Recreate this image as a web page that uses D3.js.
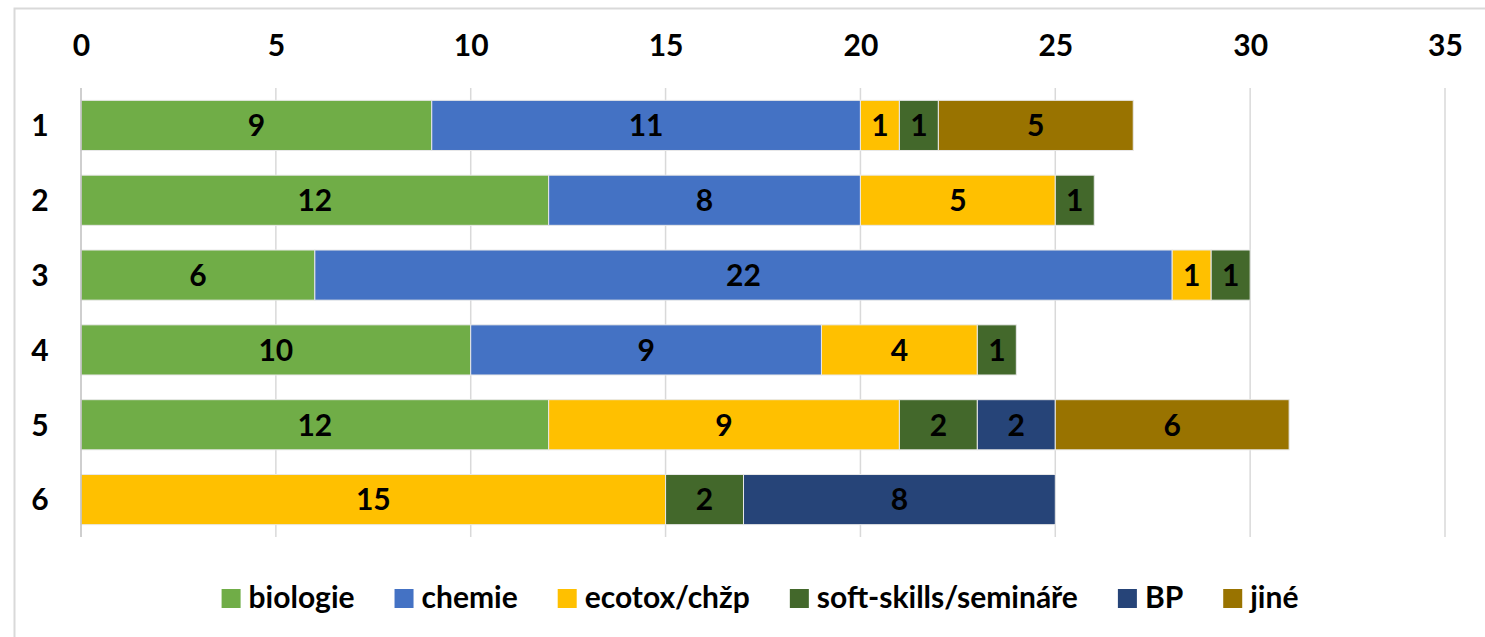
<!DOCTYPE html>
<html>
<head>
<meta charset="utf-8">
<script src="https://cdn.jsdelivr.net/npm/d3@7"></script>
<style>
  body { margin: 0; background: #fff; }
  text { font-family: Lato, "Open Sans", sans-serif; font-weight: bold; fill: #000; }
</style>
</head>
<body>
<svg id="chart" width="1485" height="637"></svg>
<script>
// data
var rows = ["1", "2", "3", "4", "5", "6"];
var seriesNames = ["biologie", "chemie", "ecotox/chžp", "soft-skills/semináře", "BP", "jiné"];
var biologie = [9, 12, 6, 10, 12, 0];
var chemie = [11, 8, 22, 9, 0, 0];
var ecotox = [1, 5, 1, 4, 9, 15];
var softSkills = [1, 1, 1, 1, 2, 2];
var bp = [0, 0, 0, 0, 2, 8];
var jine = [5, 0, 0, 0, 6, 0];
var xTicks = [0, 5, 10, 15, 20, 25, 30, 35];
var colors = ["#70AD47", "#4472C4", "#FFC000", "#43682B", "#264478", "#997300"];

var fs = 30;
var svg = d3.select("#chart");

// outer chart border
svg.append("rect")
  .attr("x", 14.5).attr("y", 8.5)
  .attr("width", 1480).attr("height", 640)
  .attr("fill", "none").attr("stroke", "#d9d9d9").attr("stroke-width", 2);

var x = d3.scaleLinear().domain([0, 35]).range([81, 1445]);
var y = d3.scaleBand().domain(rows).range([88, 537]).paddingInner(0.33).paddingOuter(0.165);

// gridlines
svg.append("g")
  .selectAll("line")
  .data(xTicks.slice(1))
  .enter().append("line")
  .attr("x1", d => x(d)).attr("x2", d => x(d))
  .attr("y1", 88).attr("y2", 537)
  .attr("stroke", "#d9d9d9").attr("stroke-width", 1.5);

// top axis labels
var xAxis = d3.axisTop(x).tickValues(xTicks).tickSize(0).tickPadding(0);
var gx = svg.append("g").attr("transform", "translate(0,56)").call(xAxis);
gx.select(".domain").remove();
gx.selectAll("text").attr("font-size", fs).attr("font-family", "Lato").attr("font-weight", "bold").attr("fill", "#000");

// stack the series
var table = rows.map(function(r, i) {
  return { row: r, s0: biologie[i], s1: chemie[i], s2: ecotox[i], s3: softSkills[i], s4: bp[i], s5: jine[i] };
});
var keys = ["s0", "s1", "s2", "s3", "s4", "s5"];
var stacked = d3.stack().keys(keys)(table);

var layers = svg.append("g").selectAll("g")
  .data(stacked)
  .enter().append("g")
  .attr("fill", (d, i) => colors[i]);

layers.selectAll("rect")
  .data(d => d.filter(p => p[1] - p[0] > 0))
  .enter().append("rect")
  .attr("x", d => x(d[0]))
  .attr("y", d => y(d.data.row))
  .attr("width", d => x(d[1]) - x(d[0]))
  .attr("height", y.bandwidth())
  .attr("stroke", "#e8e8e8").attr("stroke-width", 1);

layers.selectAll("text")
  .data(d => d.filter(p => p[1] - p[0] > 0))
  .enter().append("text")
  .attr("x", d => (x(d[0]) + x(d[1])) / 2)
  .attr("y", d => y(d.data.row) + y.bandwidth() / 2)
  .attr("dy", "0.36em")
  .attr("text-anchor", "middle")
  .attr("font-size", fs)
  .text(d => d[1] - d[0]);

// zero axis line
svg.append("line")
  .attr("x1", x(0)).attr("x2", x(0))
  .attr("y1", 88).attr("y2", 537)
  .attr("stroke", "#bfbfbf").attr("stroke-width", 1.5);

// row labels
svg.append("g").selectAll("text")
  .data(rows)
  .enter().append("text")
  .attr("x", 40)
  .attr("y", d => y(d) + y.bandwidth() / 2)
  .attr("dy", "0.36em")
  .attr("text-anchor", "middle")
  .attr("font-size", fs)
  .text(d => d);

// legend
var gap = 40;
var legend = svg.append("g");
var items = legend.selectAll("g")
  .data(seriesNames)
  .enter().append("g");
items.append("rect")
  .attr("width", 19).attr("height", 19)
  .attr("y", -19)
  .attr("fill", (d, i) => colors[i]);
items.append("text")
  .attr("x", 27)
  .attr("y", 0)
  .attr("font-size", fs)
  .text(d => d);

var pos = 0;
items.each(function() {
  var g = d3.select(this);
  g.attr("transform", "translate(" + pos + ",0)");
  pos += 27 + g.select("text").node().getComputedTextLength() + gap;
});
var total = pos - gap;
legend.attr("transform", "translate(" + (760 - total / 2) + ",608)");
</script>
</body>
</html>
